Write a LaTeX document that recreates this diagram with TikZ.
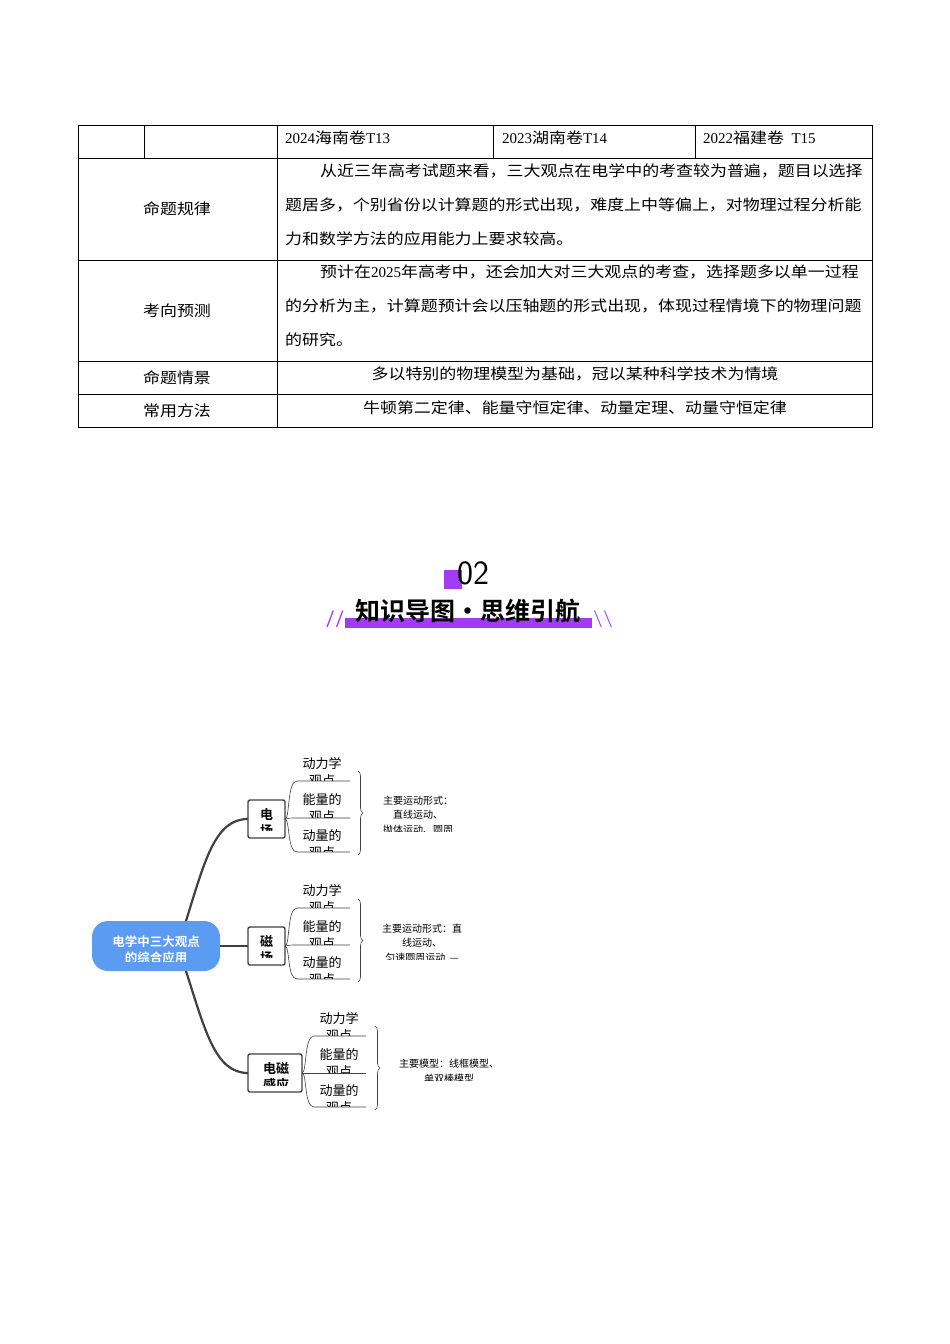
\documentclass[tikz,border=0pt]{standalone}
\usepackage{fontspec}
\setmainfont{Liberation Serif}
\newfontfamily\cjk{Noto Sans CJK SC}
\newfontfamily\cjkw[FakeStretch=1.13]{Noto Sans CJK SC}
\newfontfamily\cjkb{Noto Sans CJK SC Bold}
\usetikzlibrary{positioning,decorations.pathreplacing}
\definecolor{mapblue}{HTML}{5B9BF2}
\definecolor{headpurple}{HTML}{A13CF0}
\definecolor{linkgrey}{HTML}{404040}
\tikzset{
  cell/.style={font=\cjkw\fontsize{15}{17}\selectfont, inner sep=0pt},
  leaf/.style={font=\cjk\fontsize{13}{17}\selectfont, align=center, inner sep=0pt},
  note/.style={font=\cjk\fontsize{10}{14.5}\selectfont, align=center, inner sep=0pt},
  branchbox/.style={draw=linkgrey, line width=1.4pt, rounded corners=2pt},
  link/.style={draw=linkgrey, line width=2.2pt},
  twig/.style={draw=linkgrey, line width=0.6pt},
}
% leaf text with clipped second line: x, y, clip bottom, text
\newcommand{\cutleaf}[5]{%
  \begin{scope}\clip (#1-45,#2-12) rectangle (#1+45,#3);
  \node[#5] at (#1,#2+8) {#4};\end{scope}}
\begin{document}
\begin{tikzpicture}[x=1pt,y=-1pt]
\useasboundingbox[fill=white] (0,0) rectangle (950,1344);

%table
\draw[line width=0.6pt] (78,125) rectangle (872,427);
\foreach \yy in {158,260,361,394} \draw[line width=0.6pt] (78,\yy) -- (872,\yy);
\draw[line width=0.6pt] (277,125) -- (277,427);
\draw[line width=0.6pt] (144,125) -- (144,158);
\draw[line width=0.6pt] (493,125) -- (493,158);
\draw[line width=0.6pt] (695,125) -- (695,158);
\node[cell, anchor=west] (y24) at (285,138) {\rmfamily 2024\cjkw 海南卷\rmfamily T13};
\node[cell, anchor=west] (y23) at (502,138) {\rmfamily 2023\cjkw 湖南卷\rmfamily T14};
\node[cell, anchor=west] (y22) at (703,138) {\rmfamily 2022\cjkw 福建卷\rmfamily\ \ T15};
\node[cell] (r1) at (177,209) {命题规律};
\node[cell] (r2) at (177,311) {考向预测};
\node[cell] (r3) at (177,378) {命题情景};
\node[cell] (r4) at (177,411) {常用方法};
\node[cell, anchor=west] (t1a) at (320,171) {从近三年高考试题来看，三大观点在电学中的考查较为普遍，题目以选择};
\node[cell, anchor=west] (t1b) at (285,205) {题居多，个别省份以计算题的形式出现，难度上中等偏上，对物理过程分析能};
\node[cell, anchor=west] (t1c) at (285,239) {力和数学方法的应用能力上要求较高。};
\node[cell, anchor=west] (t2a) at (320,272) {预计在\rmfamily 2025\cjkw 年高考中，还会加大对三大观点的考查，选择题多以单一过程};
\node[cell, anchor=west] (t2b) at (285,306) {的分析为主，计算题预计会以压轴题的形式出现，体现过程情境下的物理问题};
\node[cell, anchor=west] (t2c) at (285,340) {的研究。};
\node[cell] (t3) at (575,374) {多以特别的物理模型为基础，冠以某种科学技术为情境};
\node[cell] (t4) at (575,408) {牛顿第二定律、能量守恒定律、动量定理、动量守恒定律};

%heading
\fill[headpurple] (444,570) rectangle (462,589);
\node[font=\fontfamily{lmss}\selectfont\fontsize{34}{34}\selectfont, inner sep=0pt] (num) at (473,573) {02};
\fill[headpurple] (345,618) rectangle (592,628);
\node[font=\cjkb\fontsize{25}{25}\selectfont, inner sep=0pt] (head) at (468,611) {知识导图·思维引航};
\node[font=\sffamily\bfseries\fontsize{17}{17}\selectfont, text=headpurple, inner sep=0pt] (sl) at (335,619) {//};
\node[font=\sffamily\bfseries\fontsize{17}{17}\selectfont, text=headpurple, inner sep=0pt] (sr) at (603,619) {\textbackslash\textbackslash};

%mind map
\fill[mapblue, rounded corners=16pt] (92,921) rectangle (220,971);
\coordinate (root) at (156,946);
\begin{scope}\clip (92,921) rectangle (220,961);
\node[font=\cjkb\fontsize{12.5}{16}\selectfont, text=white, align=center] at (156,950) {电学中三大观点\\的综合应用};
\end{scope}
\draw[branchbox] (248,800) rectangle (285,838);
\draw[branchbox] (248,927) rectangle (285,965);
\draw[branchbox] (248,1054) rectangle (302,1092);
\coordinate (ef) at (248,819); \coordinate (efr) at (285,819);
\coordinate (mf) at (248,946); \coordinate (mfr) at (285,946);
\coordinate (ei) at (248,1073); \coordinate (eir) at (302,1073);
\begin{scope}\clip (250,802) rectangle (283,830);
\node[font=\cjkb\fontsize{13}{16}\selectfont, align=center] at (266.5,823) {电\\场};\end{scope}
\begin{scope}\clip (250,929) rectangle (283,957);
\node[font=\cjkb\fontsize{13}{16}\selectfont, align=center] at (266.5,950) {磁\\场};\end{scope}
\begin{scope}\clip (250,1056) rectangle (300,1085);
\node[font=\cjkb\fontsize{13}{16}\selectfont, align=center] at (276,1077) {电磁\\感应};\end{scope}

\draw[link] (186,921) .. controls (205,860) and (215,819) .. (ef);
\draw[link] (220,946) -- (mf);
\draw[link] (186,971) .. controls (205,1030) and (215,1073) .. (ei);

% leaves
\foreach \bx/\by/\lx/\ly/\ex in {285/819/322/764/350, 285/946/322/891/350, 302/1073/339/1019/366}{
  \draw[twig] (\bx,\by) .. controls (\bx+5,\by) and (\bx+2,\ly+17) .. (\bx+12,\ly+17) -- (\ex,\ly+17);
  \draw[twig] (\bx,\by) .. controls (\bx+4,\by) and (\bx+2,\ly+54) .. (\bx+8,\ly+54) -- (\ex,\ly+54);
  \draw[twig] (\bx,\by) .. controls (\bx+5,\by) and (\bx+2,\ly+88) .. (\bx+12,\ly+88) -- (\ex,\ly+88);
  \cutleaf{\lx}{\ly}{\ly+16}{动力学\\观点}{leaf}
  \cutleaf{\lx}{\ly+36}{\ly+53}{能量的\\观点}{leaf}
  \cutleaf{\lx}{\ly+72}{\ly+87}{动量的\\观点}{leaf}
}
\draw[twig, decorate, decoration={brace, amplitude=5pt}] (358,771) -- (358,855);
\draw[twig, decorate, decoration={brace, amplitude=5pt}] (358,899) -- (358,982);
\draw[twig, decorate, decoration={brace, amplitude=5pt}] (375,1026) -- (375,1110);
\begin{scope}\clip (370,790) rectangle (480,831);
\node[note] (n1) at (418,815) {主要运动形式：\\直线运动、\\抛体运动、圆周};\end{scope}
\begin{scope}\clip (370,918) rectangle (480,959);
\node[note] (n2) at (422,943) {主要运动形式：直\\线运动、\\匀速圆周运动\ \ —};\end{scope}
\begin{scope}\clip (390,1054) rectangle (520,1080);
\node[note] (n3) at (449,1071) {主要模型：线框模型、\\单双棒模型};\end{scope}
\end{tikzpicture}
\end{document}
